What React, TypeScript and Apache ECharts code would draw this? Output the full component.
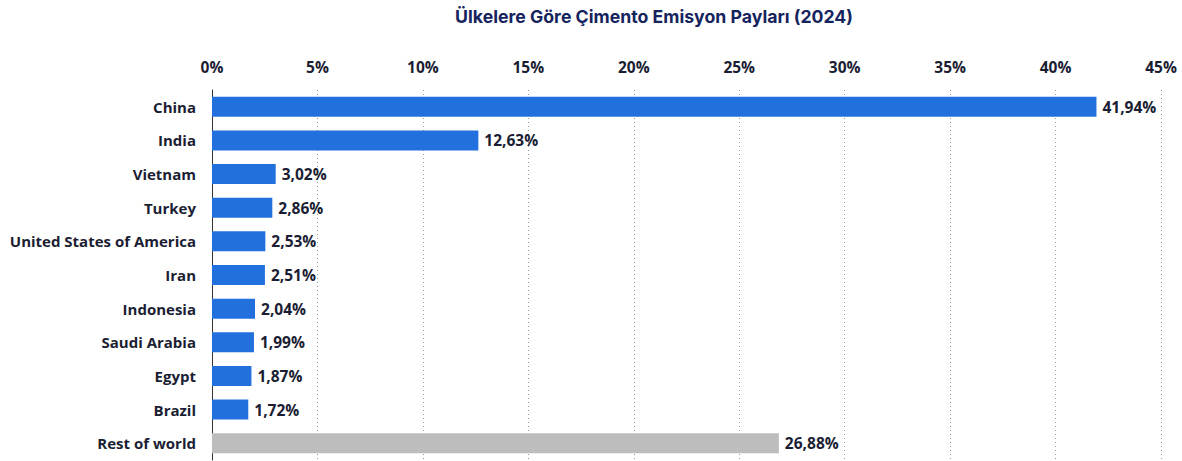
import React, { useEffect, useRef } from "react";
import * as echarts from "echarts";

const categories = [
  "China",
  "India",
  "Vietnam",
  "Turkey",
  "United States of America",
  "Iran",
  "Indonesia",
  "Saudi Arabia",
  "Egypt",
  "Brazil",
  "Rest of world",
];
const values = [41.94, 12.63, 3.02, 2.86, 2.53, 2.51, 2.04, 1.99, 1.87, 1.72, 26.88];
const tickValues = [0, 5, 10, 15, 20, 25, 30, 35, 40, 45];
const titleText = "Ülkelere Göre Çimento Emisyon Payları (2024)";

const BLUE = "#2270dd";
const GREY = "#bdbdbd";
const TEXT = "#1b1e33";

export default function App() {
  const ref = useRef<HTMLDivElement>(null);
  useEffect(() => {
    if (!ref.current) return;
    const chart = echarts.init(ref.current, undefined, { renderer: "svg" });
    chart.setOption({
      animation: false,
      backgroundColor: "#ffffff",
      graphic: [
        {
          type: "text",
          x: 654,
          y: 16,
          style: {
            text: titleText,
            fill: "#16245e",
            font: "bold 17.7px Inter, sans-serif",
            textAlign: "center",
            textVerticalAlign: "middle",
          },
        },
      ],
      grid: { left: 212, right: 21, top: 90, bottom: 1, containLabel: false },
      xAxis: {
        type: "value",
        position: "top",
        min: 0,
        max: tickValues[tickValues.length - 1],
        interval: 5,
        axisLine: { show: false },
        axisTick: { show: false },
        axisLabel: {
          formatter: (v: number) => v + "%",
          color: TEXT,
          fontFamily: "'Open Sans', sans-serif",
          fontWeight: "bold",
          fontSize: 15.5,
          margin: 15,
        },
        splitLine: { show: true, lineStyle: { type: [1, 3], color: "#9a9a9a", width: 1 } },
      },
      yAxis: {
        type: "category",
        inverse: true,
        data: categories,
        axisLine: { show: true, lineStyle: { color: "#333333", width: 1 } },
        axisTick: { show: false },
        axisLabel: {
          color: TEXT,
          fontFamily: "'Open Sans', sans-serif",
          fontWeight: "bold",
          fontSize: 15,
          margin: 16,
        },
      },
      series: [
        {
          type: "bar",
          barWidth: 20,
          data: values.map((v, i) => ({
            value: v,
            itemStyle: { color: i === values.length - 1 ? GREY : BLUE },
          })),
          label: {
            show: true,
            position: "right",
            distance: 6,
            formatter: (p: any) => p.value.toFixed(2).replace(".", ",") + "%",
            color: TEXT,
            fontFamily: "'Open Sans', sans-serif",
            fontWeight: "bold",
            fontSize: 15.5,
          },
        },
      ],
    });
    return () => chart.dispose();
  }, []);
  return (
    <div
      ref={ref}
      style={{ position: "fixed", left: 0, top: 0, width: 1182, height: 461 }}
    />
  );
}
